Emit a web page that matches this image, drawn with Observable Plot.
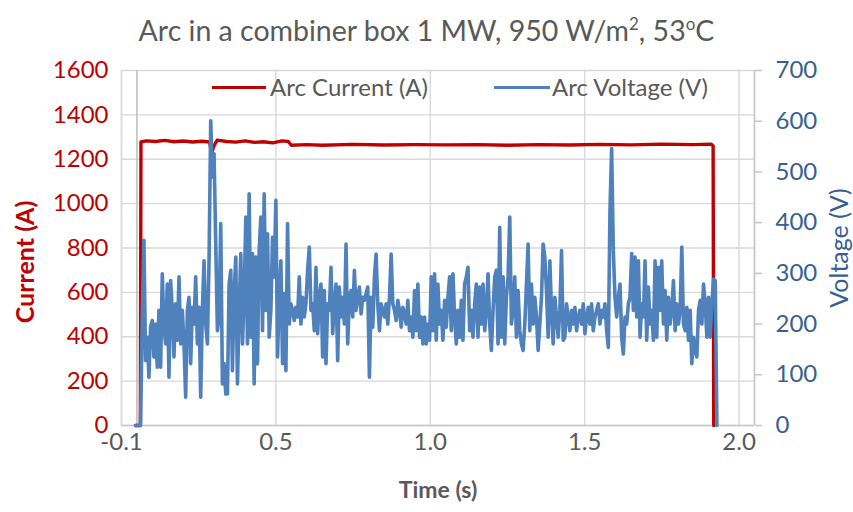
<!DOCTYPE html>
<html>
<head>
<meta charset="utf-8">
<script src="https://cdn.jsdelivr.net/npm/d3@7"></script>
<script src="https://cdn.jsdelivr.net/npm/@observablehq/plot@0.6"></script>
<style>
  body { margin: 0; background: #fff; font-family: Lato, "Open Sans", sans-serif; }
  #wrap { position: relative; width: 853px; height: 512px; overflow: hidden; }
  #title { position: absolute; left: 0; top: 12px; width: 853px; text-align: center; font-size: 28.5px; color: #595959; white-space: nowrap; line-height: 36px; }
  #title sup { font-size: 17px; vertical-align: 11px; line-height: 0; }
  .lg-line { position: absolute; height: 3px; }
  .lg-text { position: absolute; font-size: 24px; color: #595959; white-space: nowrap; line-height: 28px; }
</style>
</head>
<body>
<div id="wrap">
  <div id="chart"></div>
  <div id="title">Arc in a combiner box 1 MW, 950 W/m<sup>2</sup>, 53<sup>o</sup>C</div>
  <div class="lg-line" style="left:212px; top:86px; width:54px; background:#C00000;"></div>
  <div class="lg-text" style="left:270px; top:73px;">Arc Current (A)</div>
  <div class="lg-line" style="left:494px; top:86px; width:56px; background:#4F81BD;"></div>
  <div class="lg-text" style="left:552px; top:73px;">Arc Voltage (V)</div>
</div>
<script>
// ---- Data ----
// Arc current (A): breakpoints
const currentTime = [-0.005, 0.011, 0.013, 0.03, 0.06, 0.09, 0.12, 0.15, 0.18, 0.21, 0.235, 0.242, 0.25, 0.26, 0.29, 0.32, 0.35, 0.38, 0.41, 0.44, 0.47, 0.49, 0.50, 0.55, 0.60, 0.70, 0.80, 0.90, 1.00, 1.10, 1.20, 1.30, 1.40, 1.50, 1.60, 1.70, 1.80, 1.86, 1.866, 1.868];
const currentValue = [0, 0, 1278, 1283, 1280, 1285, 1279, 1282, 1278, 1281, 1278, 1228, 1262, 1286, 1280, 1277, 1283, 1276, 1279, 1274, 1283, 1280, 1263, 1266, 1263, 1267, 1264, 1266, 1265, 1266, 1263, 1266, 1264, 1267, 1265, 1268, 1266, 1268, 1260, 0];

// Arc voltage (V): samples, uniform sampling
const voltageStart = -0.0045;
const voltageStep = 0.00541;
const voltageValue = [
  0,0,0,0,213,365,128,174,95,194,207,135,200,115,227,115,299,194,161,279,
  95,286,227,135,240,168,293,161,227,161,56,227,253,122,233,200,293,161,233,56,
  227,325,200,161,325,601,490,536,358,187,214,398,82,122,62,62,279,306,108,260,
  332,82,227,339,161,253,411,161,457,174,339,82,332,122,345,411,187,457,227,378,
  174,227,371,293,444,135,253,325,122,260,108,398,200,240,
  227,207,233,214,293,200,253,214,240,306,352,227,240,187,312,181,253,279,135,266,
  122,240,227,312,181,240,279,128,273,214,253,200,358,161,253,266,214,306,227,253,
  273,220,253,247,260,273,95,253,194,293,338,240,187,240,227,214,240,200,253,338,
  240,227,207,247,227,194,233,220,200,247,187,214,174,266,187,279,174,214,161,214,
  161,200,168,293,187,299,168,279,200,227,168,247,194,
  253,293,187,299,214,161,227,174,247,168,279,293,312,187,227,174,240,279,174,273,
  200,279,187,227,299,200,148,227,293,306,161,391,174,293,161,253,293,411,200,227,
  293,174,266,187,161,148,200,279,358,187,279,200,253,214,148,200,253,358,332,266,
  174,325,227,161,253,214,174,227,345,168,174,240,214,187,227,200,233,187,214,227,
  200,240,181,214,233,200,240,187,214,227,240,200,227,
  214,240,187,154,424,546,345,253,214,253,279,174,141,214,200,240,253,339,227,332,
  214,325,174,240,214,325,168,273,200,227,168,325,174,312,227,325,200,266,168,253,
  200,227,286,187,240,200,227,352,200,187,233,168,227,122,174,148,135,227,247,200,
  279,240,174,253,174,240,289,286,0
];

// Axes
const xDomain = [-0.05, 2.0];
const xTicks = [-0.05, 0.45, 0.95, 1.45, 1.95];
const xTickLabels = ["-0.1", "0.5", "1.0", "1.5", "2.0"];
const currentTicks = [0, 200, 400, 600, 800, 1000, 1200, 1400, 1600];
const voltageTicks = [0, 100, 200, 300, 400, 500, 600, 700];
const currentMax = 1600, voltageMax = 700;
const k = currentMax / voltageMax;

const currentData = currentTime.map((t, i) => ({t, v: currentValue[i]}));
const voltageData = voltageValue.map((v, i) => ({t: voltageStart + i * voltageStep, v: v * k}));

const W = 853, H = 512;
const chart = Plot.plot({
  width: W, height: H,
  marginLeft: 121, marginRight: 99, marginTop: 70, marginBottom: 87,
  style: { fontFamily: "Lato, 'Open Sans', sans-serif", fontSize: "24px", background: "#fff", overflow: "visible" },
  x: { domain: xDomain, axis: null },
  y: { domain: [0, currentMax], axis: null },
  marks: [
    Plot.gridY(currentTicks, { stroke: "#d9d9d9", strokeOpacity: 1, strokeWidth: 1.4 }),
    Plot.gridX([...xTicks, xDomain[0], xDomain[1]], { stroke: "#d9d9d9", strokeOpacity: 1, strokeWidth: 1.4 }),
    Plot.ruleX([0], { stroke: "#bfbfbf", strokeWidth: 1.6 }),
    Plot.ruleY([0], { stroke: "#c8c8c8", strokeWidth: 1.6 }),
    Plot.ruleX([xDomain[1]], { stroke: "#c8c8c8", strokeWidth: 1.6 }),
    Plot.line(currentData, { x: "t", y: "v", stroke: "#C00000", strokeWidth: 3.4 }),
    Plot.line(voltageData, { x: "t", y: "v", stroke: "#4F81BD", strokeWidth: 3.6, strokeLinejoin: "round" }),
    Plot.axisX(xTicks, { label: null, tickSize: 0, tickPadding: 7, tickFormat: (d, i) => xTickLabels[i], fill: "#595959", fontSize: 24 }),
    Plot.axisY(currentTicks, { label: null, anchor: "left", tickSize: 0, tickPadding: 13, tickFormat: d => String(d), fill: "#C00000", fontSize: 24 }),
    Plot.axisY(voltageTicks.map(v => v * k), { label: null, anchor: "right", tickSize: 7, tickPadding: 14, stroke: "#c8c8c8", strokeWidth: 1.6, fill: "#376092", fontSize: 24, tickFormat: d => String(Math.round(d / k)) }),
    Plot.text(["Current (A)"], { frameAnchor: "left", textAnchor: "middle", dx: -96, dy: 14, rotate: -90, fill: "#C00000", fontWeight: "bold", fontSize: 25 }),
    Plot.text(["Voltage (V)"], { frameAnchor: "right", textAnchor: "middle", dx: 85, dy: 0, rotate: -90, fill: "#376092", fontSize: 25 }),
    Plot.text(["Time (s)"], { frameAnchor: "bottom", textAnchor: "middle", dy: 72, fill: "#595959", fontWeight: "bold", fontSize: 23 })
  ]
});
document.getElementById("chart").appendChild(chart);
</script>
</body>
</html>
